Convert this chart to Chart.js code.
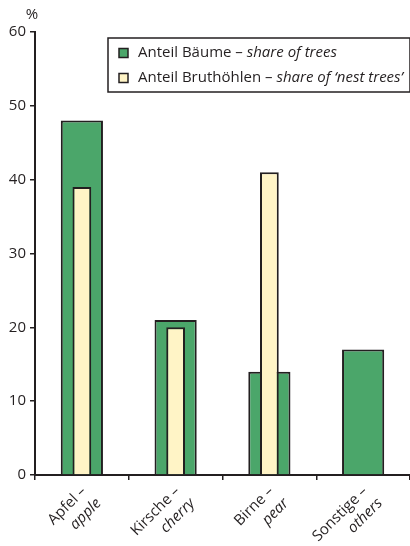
<!DOCTYPE html>
<html lang="de">
<head>
    <meta charset="UTF-8">
    <title>Anteil Bäume und Bruthöhlen</title>
    <script src="https://cdn.jsdelivr.net/npm/chart.js"></script>
    <style>
        body {
            margin: 0;
            padding: 0;
            background-color: #fff;
        }
        .chart-box {
            position: relative;
            width: 410px;
            height: 546px;
        }
    </style>
</head>
<body>
    <div class="chart-box"><canvas id="treeChart"></canvas></div>

    <script>
        // data
        const categoriesDe = ['Apfel –', 'Kirsche –', 'Birne –', 'Sonstige –'];
        const categoriesEn = ['apple', 'cherry', 'pear', 'others'];
        const seriesDe = ['Anteil Bäume – ', 'Anteil Bruthöhlen – '];
        const seriesEn = ['share of trees', 'share of ‘nest trees’'];
        const shareTrees = [48, 21, 14, 17];
        const shareNestTrees = [39, 20, 41, null];
        const yUnit = '%';

        const FONT = "'Open Sans', sans-serif";
        const INK = '#231f20';

        // two-part labels (upright German, italic English) drawn by hand
        const labelPlugin = {
            id: 'labelPlugin',
            afterDraw(chart) {
                const ctx = chart.ctx;
                const xScale = chart.scales.x;
                const yScale = chart.scales.y;
                ctx.save();
                ctx.fillStyle = INK;

                // unit above the y axis
                ctx.font = '15px ' + FONT;
                ctx.textAlign = 'center';
                ctx.textBaseline = 'middle';
                ctx.fillText(yUnit, yScale.right - 3, 15);

                // rotated category labels
                categoriesDe.forEach((de, i) => {
                    const px = xScale.getPixelForValue(i);
                    ctx.save();
                    ctx.translate(px + 2, xScale.top + 14);
                    ctx.rotate(-Math.PI / 4);
                    ctx.textAlign = 'right';
                    ctx.textBaseline = 'middle';
                    ctx.font = '15px ' + FONT;
                    ctx.fillText(de, 0, 0);
                    ctx.font = 'italic 15px ' + FONT;
                    ctx.fillText(categoriesEn[i], 2, 19);
                    ctx.restore();
                });

                // legend box
                const bx = 108, by = 38, bw = 302, bh = 54;
                ctx.fillStyle = '#fff';
                ctx.fillRect(bx, by, bw, bh);
                ctx.strokeStyle = INK;
                ctx.lineWidth = 1.5;
                ctx.strokeRect(bx, by, bw, bh);

                chart.data.datasets.forEach((ds, i) => {
                    const ly = by + 15 + i * 25;
                    ctx.fillStyle = ds.backgroundColor;
                    ctx.fillRect(bx + 11, ly - 4.5, 9, 9);
                    ctx.strokeStyle = INK;
                    ctx.lineWidth = 1.5;
                    ctx.strokeRect(bx + 11, ly - 4.5, 9, 9);

                    ctx.fillStyle = INK;
                    ctx.textAlign = 'left';
                    ctx.textBaseline = 'middle';
                    ctx.font = '15px ' + FONT;
                    ctx.fillText(seriesDe[i], bx + 30, ly);
                    const w = ctx.measureText(seriesDe[i]).width;
                    ctx.font = 'italic 15px ' + FONT;
                    ctx.fillText(seriesEn[i], bx + 30 + w, ly);
                });
                ctx.restore();
            }
        };

        const ctx = document.getElementById('treeChart').getContext('2d');
        const treeChart = new Chart(ctx, {
            type: 'bar',
            data: {
                labels: categoriesDe.map((de, i) => de + ' ' + categoriesEn[i]),
                datasets: [
                    {
                        label: seriesDe[0] + seriesEn[0],
                        data: shareTrees,
                        backgroundColor: '#4ba66a',
                        borderColor: INK,
                        borderWidth: 2,
                        barPercentage: 0.45,
                        categoryPercentage: 1,
                        order: 1
                    },
                    {
                        label: seriesDe[1] + seriesEn[1],
                        data: shareNestTrees,
                        backgroundColor: '#fff4c6',
                        borderColor: INK,
                        borderWidth: 2,
                        barPercentage: 0.2,
                        categoryPercentage: 1,
                        order: 0
                    }
                ]
            },
            options: {
                responsive: true,
                maintainAspectRatio: false,
                animation: false,
                layout: { padding: { top: 32, right: 0, left: 0, bottom: 0 } },
                plugins: {
                    legend: { display: false },
                    tooltip: { enabled: false }
                },
                scales: {
                    x: {
                        stacked: true,
                        afterFit(scale) { scale.height = 71; },
                        grid: {
                            offset: true,
                            drawOnChartArea: false,
                            drawTicks: true,
                            tickLength: 5,
                            color: INK,
                            lineWidth: 1.5
                        },
                        border: { color: INK, width: 2 },
                        ticks: { display: false }
                    },
                    y: {
                        min: 0,
                        max: 60,
                        afterFit(scale) { scale.width = 35; },
                        grid: {
                            drawOnChartArea: false,
                            drawTicks: true,
                            tickLength: 5,
                            color: INK,
                            lineWidth: 1.5
                        },
                        border: { color: INK, width: 2 },
                        ticks: {
                            stepSize: 10,
                            padding: 4,
                            color: INK,
                            font: { family: FONT, size: 15 }
                        }
                    }
                }
            },
            plugins: [labelPlugin]
        });
    </script>
</body>
</html>
